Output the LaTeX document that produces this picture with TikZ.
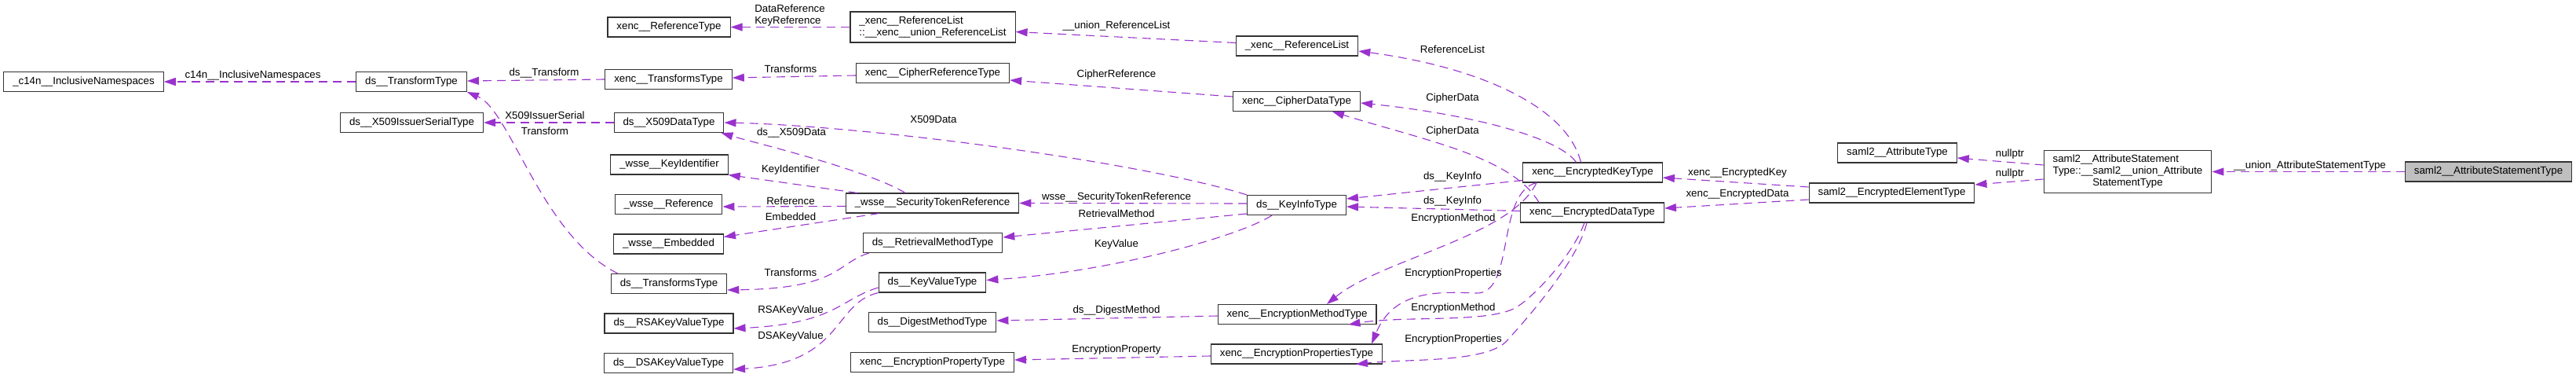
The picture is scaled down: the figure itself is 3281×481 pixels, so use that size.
\documentclass[tikz,border=0pt]{standalone}
\usepackage{fontspec}
\setmainfont{Liberation Sans}
\usetikzlibrary{arrows.meta,calc}
\definecolor{orchid}{HTML}{9A32CD}
\definecolor{rootgray}{HTML}{BFBFBF}

\begin{document}
\begin{tikzpicture}[x=0.5pt,y=-0.5pt,
  every node/.style={font=\fontsize{6.65}{7.5}\selectfont},
  cls/.style={draw=black!80,line width=0.55pt,fill=white,inner xsep=5.75pt,inner ysep=2.4pt,minimum height=12.5pt},
  rootcls/.style={cls,fill=rootgray},
  rel/.style={orchid,line width=0.55pt,dash pattern=on 5.5pt off 3.5pt,-{Triangle[length=7.5pt,width=5pt]}},
  lbl/.style={inner sep=0pt,align=left}]
  \useasboundingbox (0,0) rectangle (3281,481);

  \node[cls] (c14n) at (106.5,104) {\_c14n\_\_InclusiveNamespaces};
  \node[cls] (trf) at (524,104) {ds\_\_TransformType};
  \node[cls] (x509is) at (524.5,156) {ds\_\_X509IssuerSerialType};
  \node[cls] (reftype) at (852,34.5) {xenc\_\_ReferenceType};
  \node[cls] (xtrfs) at (851.5,101) {xenc\_\_TransformsType};
  \node[cls] (x509) at (852,156) {ds\_\_X509DataType};
  \node[cls] (keyid) at (852.5,209.5) {\_wsse\_\_KeyIdentifier};
  \node[cls] (wref) at (851.5,260) {\_wsse\_\_Reference};
  \node[cls] (wemb) at (851.5,310.5) {\_wsse\_\_Embedded};
  \node[cls] (dtrfs) at (852,361) {ds\_\_TransformsType};
  \node[cls] (rsa) at (852,411.5) {ds\_\_RSAKeyValueType};
  \node[cls] (dsa) at (851.5,462) {ds\_\_DSAKeyValueType};
  \node[cls,align=left,minimum height=19.5pt] (ureflist) at (1188,34.5) {\_xenc\_\_ReferenceList\\::\_\_xenc\_\_union\_ReferenceList};
  \node[cls] (ciphref) at (1188,93) {xenc\_\_CipherReferenceType};
  \node[cls] (str) at (1187.5,258.5) {\_wsse\_\_SecurityTokenReference};
  \node[cls] (rmeth) at (1188,309) {ds\_\_RetrievalMethodType};
  \node[cls] (kval) at (1187.5,359.5) {ds\_\_KeyValueType};
  \node[cls] (digest) at (1187.5,410) {ds\_\_DigestMethodType};
  \node[cls] (eprop) at (1187.5,461) {xenc\_\_EncryptionPropertyType};
  \node[cls] (reflist) at (1652,58.5) {\_xenc\_\_ReferenceList};
  \node[cls] (cdata) at (1651.5,129) {xenc\_\_CipherDataType};
  \node[cls] (kinfo) at (1651.5,261) {ds\_\_KeyInfoType};
  \node[cls] (emeth) at (1652,400) {xenc\_\_EncryptionMethodType};
  \node[cls] (eprops) at (1651.5,450.5) {xenc\_\_EncryptionPropertiesType};
  \node[cls] (ekey) at (2028.5,219.5) {xenc\_\_EncryptedKeyType};
  \node[cls] (edata) at (2028,270.5) {xenc\_\_EncryptedDataType};
  \node[cls] (attr) at (2416.5,194.5) {saml2\_\_AttributeType};
  \node[cls] (encel) at (2409.5,245.5) {saml2\_\_EncryptedElementType};
  \node[cls] (uattr) at (2710,218.5) {\begin{tabular}{@{}l@{}}saml2\_\_AttributeStatement\\Type::\_\_saml2\_\_union\_Attribute\\\multicolumn{1}{@{}c@{}}{StatementType}\end{tabular}};
  \node[rootcls] (top) at (3169.5,218.5) {saml2\_\_AttributeStatementType};

  \coordinate (epbend) at (1880,373);
  \coordinate (emdbend) at (1933,390);
  \coordinate (epdbend) at (1918,435);

  \draw[rel] (trf.west) -- (c14n.east);
  \draw[rel] (xtrfs.west) -- ($(trf.east)+(0,-1)$);
  \draw[rel] (x509.west) -- (x509is.east);
  \draw[rel] ($(dtrfs.north west)+(9,0)$) .. controls +(-97,-48) and +(55,23) .. (trf.south east);
  \draw[rel] (ureflist.west) -- (reftype.east);
  \draw[rel] ($(reflist.west)+(0,-4)$) -- ($(ureflist.east)+(0,6)$);
  \draw[rel] ($(ciphref.west)+(0,3)$) -- ($(xtrfs.east)+(0,-2)$);
  \draw[rel] ($(cdata.west)+(0,-6)$) -- ($(ciphref.east)+(0,9)$);
  \draw[rel] (kinfo.north west) .. controls +(-139,-43) and +(178,4) .. (x509.east);
  \draw[rel] ($(str.north)+(-34.5,0)$) .. controls +(-50,-30) and +(40,12) .. ($(x509.south east)+(-4,0)$);
  \draw[rel] ($(str.north west)+(15,0)$) -- (keyid.south east);
  \draw[rel] ($(str.west)+(0,4)$) -- ($(wref.east)+(0,3)$);
  \draw[rel] ($(str.south)+(-68,0)$) -- ($(wemb.east)+(0,-9)$);
  \draw[rel] ($(kinfo.west)+(0,-2)$) -- (str.east);
  \draw[rel] ($(kinfo.west)+(0,11)$) -- ($(rmeth.east)+(0,-7)$);
  \draw[rel] ($(kinfo.south)+(-31.5,0)$) .. controls +(-40,26) and +(163,-11) .. ($(kval.east)+(0,-3)$);
  \draw[rel] ($(rmeth.south west)+(8,0)$) .. controls +(-42,13) and +(144,-2) .. ($(dtrfs.east)+(0,8)$);
  \draw[rel] ($(kval.west)+(0,6.5)$) .. controls +(-48,14) and +(130,-6) .. ($(rsa.east)+(0,6.5)$);
  \draw[rel] (kval.south west) .. controls +(-58,13) and +(141,-8) .. ($(dsa.east)+(0,8)$);
  \draw[rel] ($(emeth.west)+(0,2)$) -- ($(digest.east)+(0,-2)$);
  \draw[rel] ($(eprops.west)+(0,2.5)$) -- ($(eprop.east)+(0,-3)$);
  \draw[rel] ($(ekey.north)+(-15,0)$) .. controls +(-18,-72) and +(151,20) .. ($(reflist.east)+(0,6.5)$);
  \draw[rel] ($(ekey.north)+(-21,0)$) .. controls +(-22,-32) and +(137,14) .. ($(cdata.east)+(0,2)$);
  \draw[rel] ($(edata.north)+(-68,0)$) .. controls +(-35,-58) and +(123,38) .. ($(cdata.south)+(45.5,0)$);
  \draw[rel] ($(ekey.west)+(0,10)$) -- ($(kinfo.east)+(0,-8)$);
  \draw[rel] ($(edata.west)+(0,-2)$) -- ($(kinfo.east)+(0,2)$);
  \draw[rel] ($(ekey.south)+(-71.5,0)$) .. controls +(-32,68) and +(70,-57) .. ($(emeth.north)+(38,0)$);
  \draw[rel] ($(ekey.south)+(-71.5,0)$) .. controls +(-52,13) and +(50,2) .. (epbend)
    .. controls +(-50,-2) and +(28,-68) .. ($(eprops.north)+(95.5,0)$);
  \draw[rel] ($(edata.south)+(-10,0)$) .. controls +(-13,37) and +(27,-18) .. (emdbend)
    .. controls +(-33,22) and +(73,-12) .. ($(emeth.south east)+(-36,0)$);
  \draw[rel] ($(edata.south)+(-7,0)$) .. controls +(-11,47) and +(32,-35) .. (epdbend)
    .. controls +(-28,27) and +(63,-7) .. ($(eprops.south)+(75.5,0)$);
  \draw[rel] ($(encel.west)+(0,-7.5)$) -- ($(ekey.east)+(0,6.5)$);
  \draw[rel] ($(encel.west)+(0,8.5)$) -- ($(edata.east)+(0,-5.5)$);
  \draw[rel] ($(uattr.west)+(0,-8.5)$) -- ($(attr.east)+(0,6.5)$);
  \draw[rel] ($(uattr.west)+(0,9.5)$) -- ($(encel.east)+(0,-10.5)$);
  \draw[rel] (top.west) -- (uattr.east);

  \node[lbl] (l1) at (322,96) {c14n\_\_InclusiveNamespaces};
  \node[lbl] (l2) at (693,93) {ds\_\_Transform};
  \node[lbl] (l3) at (694,147) {X509IssuerSerial};
  \node[lbl] (l4) at (694,167) {Transform};
  \node[lbl] (l5) at (1006,19.5) {DataReference\\KeyReference};
  \node[lbl] (l6) at (1422,33) {\_\_union\_ReferenceList};
  \node[lbl] (l7) at (1007,88) {Transforms};
  \node[lbl] (l8) at (1422,95) {CipherReference};
  \node[lbl] (l9) at (1189,152) {X509Data};
  \node[lbl] (l10) at (1008,169) {ds\_\_X509Data};
  \node[lbl] (l11) at (1007,216) {KeyIdentifier};
  \node[lbl] (l12) at (1007,256) {Reference};
  \node[lbl] (l13) at (1007,276) {Embedded};
  \node[lbl] (l14) at (1422,251) {wsse\_\_SecurityTokenReference};
  \node[lbl] (l15) at (1422,272) {RetrievalMethod};
  \node[lbl] (l16) at (1422,311) {KeyValue};
  \node[lbl] (l17) at (1007,347) {Transforms};
  \node[lbl] (l18) at (1007,395) {RSAKeyValue};
  \node[lbl] (l19) at (1007,428) {DSAKeyValue};
  \node[lbl] (l20) at (1422,395) {ds\_\_DigestMethod};
  \node[lbl] (l21) at (1422,445) {EncryptionProperty};
  \node[lbl] (l22) at (1850,63) {ReferenceList};
  \node[lbl] (l23) at (1850,125) {CipherData};
  \node[lbl] (l24) at (1850,167) {CipherData};
  \node[lbl] (l25) at (1850,225) {ds\_\_KeyInfo};
  \node[lbl] (l26) at (1850,256) {ds\_\_KeyInfo};
  \node[lbl] (l27) at (1851,278) {EncryptionMethod};
  \node[lbl] (l28) at (1851,348) {EncryptionProperties};
  \node[lbl] (l29) at (1851,392) {EncryptionMethod};
  \node[lbl] (l30) at (1851,432) {EncryptionProperties};
  \node[lbl] (l31) at (2213,220) {xenc\_\_EncryptedKey};
  \node[lbl] (l32) at (2213,247) {xenc\_\_EncryptedData};
  \node[lbl] (l33) at (2560,196) {nullptr};
  \node[lbl] (l34) at (2560,221) {nullptr};
  \node[lbl] (l35) at (2942,211) {\_\_union\_AttributeStatementType};

\end{tikzpicture}
\end{document}
